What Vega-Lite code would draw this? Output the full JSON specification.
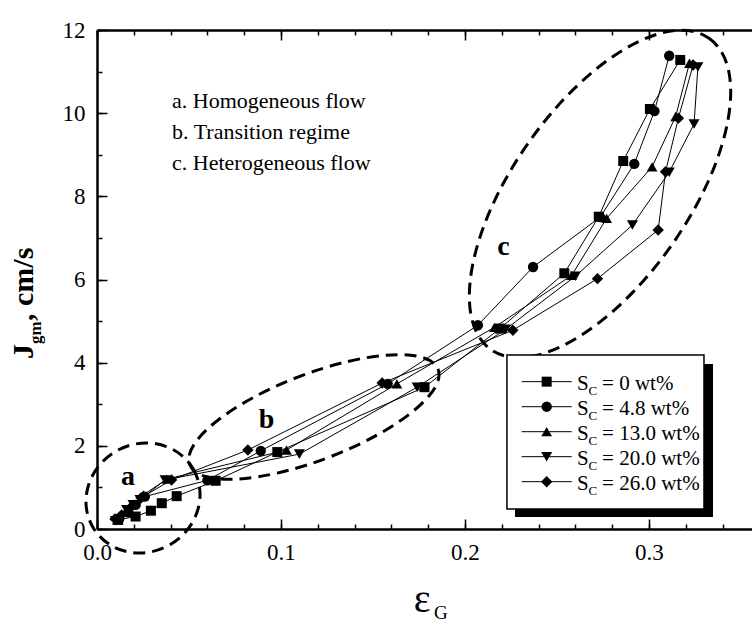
{
  "$schema": "https://vega.github.io/schema/vega-lite/v6.json",
  "width": 655,
  "height": 499,
  "autosize": "none",
  "padding": {"left": 97, "top": 30, "right": 0, "bottom": 91},
  "background": "white",
  "config": {
    "view": {"stroke": null},
    "font": "Liberation Serif",
    "axis": {
      "grid": false,
      "domainColor": "black",
      "tickColor": "black",
      "labelColor": "black",
      "labelFont": "Liberation Serif",
      "labelFontSize": 23,
      "tickWidth": 1.5,
      "domainWidth": 2.5
    }
  },
  "datasets": {
    "flow": [
      {"sc": "0", "eg": 0.0115, "j": 0.22}, {"sc": "0", "eg": 0.021, "j": 0.30}, {"sc": "0", "eg": 0.0293, "j": 0.44},
      {"sc": "0", "eg": 0.0352, "j": 0.62}, {"sc": "0", "eg": 0.0433, "j": 0.79}, {"sc": "0", "eg": 0.0645, "j": 1.16},
      {"sc": "0", "eg": 0.098, "j": 1.85}, {"sc": "0", "eg": 0.178, "j": 3.41}, {"sc": "0", "eg": 0.219, "j": 4.82},
      {"sc": "0", "eg": 0.254, "j": 6.15}, {"sc": "0", "eg": 0.2727, "j": 7.51}, {"sc": "0", "eg": 0.286, "j": 8.85},
      {"sc": "0", "eg": 0.3005, "j": 10.10}, {"sc": "0", "eg": 0.317, "j": 11.28},

      {"sc": "4.8", "eg": 0.012, "j": 0.24}, {"sc": "4.8", "eg": 0.017, "j": 0.40}, {"sc": "4.8", "eg": 0.021, "j": 0.58},
      {"sc": "4.8", "eg": 0.026, "j": 0.78}, {"sc": "4.8", "eg": 0.060, "j": 1.17}, {"sc": "4.8", "eg": 0.089, "j": 1.88},
      {"sc": "4.8", "eg": 0.158, "j": 3.49}, {"sc": "4.8", "eg": 0.207, "j": 4.90}, {"sc": "4.8", "eg": 0.237, "j": 6.30},
      {"sc": "4.8", "eg": 0.2735, "j": 7.50}, {"sc": "4.8", "eg": 0.292, "j": 8.78}, {"sc": "4.8", "eg": 0.303, "j": 10.05},
      {"sc": "4.8", "eg": 0.311, "j": 11.38},

      {"sc": "13.0", "eg": 0.011, "j": 0.22}, {"sc": "13.0", "eg": 0.016, "j": 0.42}, {"sc": "13.0", "eg": 0.020, "j": 0.60},
      {"sc": "13.0", "eg": 0.0252, "j": 0.82}, {"sc": "13.0", "eg": 0.038, "j": 1.20}, {"sc": "13.0", "eg": 0.103, "j": 1.90},
      {"sc": "13.0", "eg": 0.163, "j": 3.49}, {"sc": "13.0", "eg": 0.216, "j": 4.85}, {"sc": "13.0", "eg": 0.258, "j": 6.10},
      {"sc": "13.0", "eg": 0.277, "j": 7.47}, {"sc": "13.0", "eg": 0.3017, "j": 8.71}, {"sc": "13.0", "eg": 0.3145, "j": 9.92},
      {"sc": "13.0", "eg": 0.322, "j": 11.20},

      {"sc": "20.0", "eg": 0.010, "j": 0.20}, {"sc": "20.0", "eg": 0.0161, "j": 0.46}, {"sc": "20.0", "eg": 0.0196, "j": 0.58},
      {"sc": "20.0", "eg": 0.0234, "j": 0.70}, {"sc": "20.0", "eg": 0.037, "j": 1.18}, {"sc": "20.0", "eg": 0.110, "j": 1.80},
      {"sc": "20.0", "eg": 0.174, "j": 3.41}, {"sc": "20.0", "eg": 0.222, "j": 4.80}, {"sc": "20.0", "eg": 0.260, "j": 6.08},
      {"sc": "20.0", "eg": 0.291, "j": 7.31}, {"sc": "20.0", "eg": 0.311, "j": 8.58}, {"sc": "20.0", "eg": 0.3245, "j": 9.74},
      {"sc": "20.0", "eg": 0.3266, "j": 11.11},

      {"sc": "26.0", "eg": 0.0098, "j": 0.24}, {"sc": "26.0", "eg": 0.0134, "j": 0.34}, {"sc": "26.0", "eg": 0.019, "j": 0.55},
      {"sc": "26.0", "eg": 0.024, "j": 0.75}, {"sc": "26.0", "eg": 0.0405, "j": 1.18}, {"sc": "26.0", "eg": 0.082, "j": 1.90},
      {"sc": "26.0", "eg": 0.155, "j": 3.51}, {"sc": "26.0", "eg": 0.226, "j": 4.78}, {"sc": "26.0", "eg": 0.272, "j": 6.02},
      {"sc": "26.0", "eg": 0.305, "j": 7.19}, {"sc": "26.0", "eg": 0.309, "j": 8.59}, {"sc": "26.0", "eg": 0.316, "j": 9.88},
      {"sc": "26.0", "eg": 0.324, "j": 11.16}
    ]
  },
  "resolve": {"axis": {"x": "independent", "y": "independent"}},
  "layer": [
    {
      "data": {"name": "flow"},
      "mark": {"type": "line", "color": "black", "strokeWidth": 1},
      "encoding": {
        "x": {"field": "eg", "type": "quantitative", "scale": {"domain": [0, 0.356], "nice": false, "zero": false},
              "axis": {"orient": "bottom", "values": [0, 0.1, 0.2, 0.3], "format": ".1f", "ticks": false, "domain": true,
                       "labelFlush": false, "labelPadding": 12, "labelFont": "Liberation Serif", "labelFontSize": 23,
                       "labelColor": "black", "title": null}},
        "y": {"field": "j", "type": "quantitative", "scale": {"domain": [0, 12], "nice": false, "zero": false},
              "axis": {"orient": "left", "values": [0, 2, 4, 6, 8, 10, 12], "format": "d", "ticks": false, "domain": true,
                       "labelPadding": 12, "labelFont": "Liberation Serif", "labelFontSize": 23, "labelColor": "black", "title": null}},
        "detail": {"field": "sc"},
        "order": {"field": "j", "type": "quantitative"}
      }
    },
    {
      "data": {"name": "flow"},
      "mark": {"type": "point", "filled": true, "color": "black", "opacity": 1},
      "encoding": {
        "x": {"field": "eg", "type": "quantitative", "scale": {"domain": [0, 0.356], "nice": false, "zero": false},
              "axis": {"orient": "bottom", "values": [0, 0.1, 0.2, 0.3], "labels": false, "domain": false, "tickSize": -10, "title": null}},
        "y": {"field": "j", "type": "quantitative", "scale": {"domain": [0, 12], "nice": false, "zero": false},
              "axis": {"orient": "left", "values": [0, 2, 4, 6, 8, 10, 12], "labels": false, "domain": false, "tickSize": -10, "title": null}},
        "shape": {"field": "sc", "type": "nominal",
                  "scale": {"domain": ["0", "4.8", "13.0", "20.0", "26.0"], "range": ["square", "circle", "triangle-up", "triangle-down", "diamond"]},
                  "legend": null},
        "size": {"field": "sc", "type": "nominal",
                 "scale": {"domain": ["0", "4.8", "13.0", "20.0", "26.0"], "range": [100, 130, 170, 170, 180]},
                 "legend": null}
      }
    },
    {
      "data": {"values": [{}]},
      "mark": {"type": "point", "shape": "M50.23,-29C65.14,-3.17,54.74,30.74,27,46.76C-0.74,62.78,-35.32,54.83,-50.23,29C-65.14,3.17,-54.74,-30.74,-27,-46.76C0.74,-62.78,35.32,-54.83,50.23,-29Z",
               "size": 4, "filled": false, "color": "black", "opacity": 1, "strokeWidth": 3, "strokeDash": [12, 7]},
      "encoding": {
        "x": {"datum": 0.025, "type": "quantitative", "scale": {"domain": [0, 0.356], "nice": false, "zero": false},
              "axis": {"orient": "bottom", "values": [0, 0.02, 0.04, 0.06, 0.08, 0.1, 0.12, 0.14, 0.16, 0.18, 0.2, 0.22, 0.24, 0.26, 0.28, 0.3, 0.32, 0.34],
                       "labels": false, "domain": false, "tickSize": -5, "title": null}},
        "y": {"datum": 0.746, "type": "quantitative", "scale": {"domain": [0, 12], "nice": false, "zero": false},
              "axis": {"orient": "left", "values": [0, 1, 2, 3, 4, 5, 6, 7, 8, 9, 10, 11, 12],
                       "labels": false, "domain": false, "tickSize": -5, "title": null}}
      }
    },
    {
      "data": {"values": [{}]},
      "mark": {"type": "point", "shape": "M124.17,-47.67C132.68,-25.5,83.99,13.81,15.41,40.14C-53.17,66.47,-115.66,69.84,-124.17,47.67C-132.68,25.5,-83.99,-13.81,-15.41,-40.14C53.17,-66.47,115.66,-69.84,124.17,-47.67Z",
               "size": 4, "filled": false, "color": "black", "opacity": 1, "strokeWidth": 3, "strokeDash": [12, 7]},
      "encoding": {
        "x": {"datum": 0.1179, "type": "quantitative", "scale": {"domain": [0, 0.356], "nice": false, "zero": false},
              "axis": {"orient": "top", "values": [0, 0.1, 0.2, 0.3], "labels": false, "domain": true, "tickSize": -10, "title": null}},
        "y": {"datum": 2.694, "type": "quantitative", "scale": {"domain": [0, 12], "nice": false, "zero": false}, "axis": null}
      }
    },
    {
      "data": {"values": [{}]},
      "mark": {"type": "point", "shape": "M108.98,-155.65C148.8,-127.77,132.28,-35.49,72.09,50.48C11.9,136.45,-69.16,183.53,-108.98,155.65C-148.8,127.77,-132.28,35.49,-72.09,-50.48C-11.9,-136.45,69.16,-183.53,108.98,-155.65Z",
               "size": 4, "filled": false, "color": "black", "opacity": 1, "strokeWidth": 3, "strokeDash": [12, 7]},
      "encoding": {
        "x": {"datum": 0.2734, "type": "quantitative", "scale": {"domain": [0, 0.356], "nice": false, "zero": false},
              "axis": {"orient": "top", "values": [0, 0.02, 0.04, 0.06, 0.08, 0.1, 0.12, 0.14, 0.16, 0.18, 0.2, 0.22, 0.24, 0.26, 0.28, 0.3, 0.32, 0.34],
                       "labels": false, "domain": false, "tickSize": -5, "title": null}},
        "y": {"datum": 8.057, "type": "quantitative", "scale": {"domain": [0, 12], "nice": false, "zero": false}, "axis": null}
      }
    },
    {
      "data": {"values": [{}]},
      "mark": {"type": "text", "text": ["a. Homogeneous flow", "b. Transition regime", "c. Heterogeneous flow"],
               "font": "Liberation Serif", "fontSize": 22, "lineHeight": 31, "align": "left", "baseline": "alphabetic", "color": "black"},
      "encoding": {
        "x": {"datum": 0.0408, "type": "quantitative", "scale": {"domain": [0, 0.356], "nice": false, "zero": false}, "axis": null},
        "y": {"datum": 10.125, "type": "quantitative", "scale": {"domain": [0, 12], "nice": false, "zero": false}, "axis": null}
      }
    },
    {
      "data": {"values": [{"tag": "a", "px": 0.0168, "py": 1.058}, {"tag": "b", "px": 0.0921, "py": 2.429}, {"tag": "c", "px": 0.2209, "py": 6.59}]},
      "mark": {"type": "text", "font": "Liberation Serif", "fontSize": 28, "fontWeight": "bold", "align": "center", "baseline": "alphabetic", "color": "black"},
      "encoding": {
        "x": {"field": "px", "type": "quantitative", "scale": {"domain": [0, 0.356], "nice": false, "zero": false}, "axis": null},
        "y": {"field": "py", "type": "quantitative", "scale": {"domain": [0, 12], "nice": false, "zero": false}, "axis": null},
        "text": {"field": "tag"}
      }
    },
    {
      "data": {"values": [{}]},
      "mark": {"type": "rect", "color": "black", "opacity": 1},
      "encoding": {
        "x": {"datum": 0.2272, "type": "quantitative", "scale": {"domain": [0, 0.356], "nice": false, "zero": false}, "axis": null},
        "x2": {"datum": 0.3348},
        "y": {"datum": 3.968, "type": "quantitative", "scale": {"domain": [0, 12], "nice": false, "zero": false}, "axis": null},
        "y2": {"datum": 0.289}
      }
    },
    {
      "data": {"values": [{}]},
      "mark": {"type": "rect", "fill": "white", "stroke": "black", "strokeWidth": 1.5, "opacity": 1},
      "encoding": {
        "x": {"datum": 0.2228, "type": "quantitative", "scale": {"domain": [0, 0.356], "nice": false, "zero": false}, "axis": null},
        "x2": {"datum": 0.3299},
        "y": {"datum": 4.185, "type": "quantitative", "scale": {"domain": [0, 12], "nice": false, "zero": false}, "axis": null},
        "y2": {"datum": 0.481}
      }
    },
    {
      "data": {"values": [
        {"sc": "0", "ly": 3.543}, {"sc": "4.8", "ly": 2.941}, {"sc": "13.0", "ly": 2.340}, {"sc": "20.0", "ly": 1.739}, {"sc": "26.0", "ly": 1.138}
      ]},
      "layer": [
        {
          "mark": {"type": "rule", "color": "black", "strokeWidth": 1},
          "encoding": {
            "x": {"datum": 0.2308, "type": "quantitative", "scale": {"domain": [0, 0.356], "nice": false, "zero": false}, "axis": null},
            "x2": {"datum": 0.2580},
            "y": {"field": "ly", "type": "quantitative", "scale": {"domain": [0, 12], "nice": false, "zero": false}, "axis": null}
          }
        },
        {
          "mark": {"type": "point", "filled": true, "color": "black", "opacity": 1},
          "encoding": {
            "x": {"datum": 0.2444, "type": "quantitative", "scale": {"domain": [0, 0.356], "nice": false, "zero": false}, "axis": null},
            "y": {"field": "ly", "type": "quantitative", "scale": {"domain": [0, 12], "nice": false, "zero": false}, "axis": null},
            "shape": {"field": "sc", "type": "nominal",
                      "scale": {"domain": ["0", "4.8", "13.0", "20.0", "26.0"], "range": ["square", "circle", "triangle-up", "triangle-down", "diamond"]},
                      "legend": null},
            "size": {"field": "sc", "type": "nominal",
                     "scale": {"domain": ["0", "4.8", "13.0", "20.0", "26.0"], "range": [100, 130, 170, 170, 180]},
                     "legend": null}
          }
        }
      ]
    },
    {
      "data": {"values": [{}]},
      "mark": {"type": "text", "text": ["S", "S", "S", "S", "S"], "font": "Liberation Serif", "fontSize": 21, "lineHeight": 25,
               "align": "left", "baseline": "alphabetic", "color": "black"},
      "encoding": {
        "x": {"datum": 0.2609, "type": "quantitative", "scale": {"domain": [0, 0.356], "nice": false, "zero": false}, "axis": null},
        "y": {"datum": 3.343, "type": "quantitative", "scale": {"domain": [0, 12], "nice": false, "zero": false}, "axis": null}
      }
    },
    {
      "data": {"values": [{}]},
      "mark": {"type": "text", "text": ["C", "C", "C", "C", "C"], "font": "Liberation Serif", "fontSize": 13, "lineHeight": 25,
               "align": "left", "baseline": "alphabetic", "color": "black"},
      "encoding": {
        "x": {"datum": 0.2672, "type": "quantitative", "scale": {"domain": [0, 0.356], "nice": false, "zero": false}, "axis": null},
        "y": {"datum": 3.223, "type": "quantitative", "scale": {"domain": [0, 12], "nice": false, "zero": false}, "axis": null}
      }
    },
    {
      "data": {"values": [{}]},
      "mark": {"type": "text", "text": ["= 0 wt%", "= 4.8 wt%", "= 13.0 wt%", "= 20.0 wt%", "= 26.0 wt%"], "font": "Liberation Serif",
               "fontSize": 21, "lineHeight": 25, "align": "left", "baseline": "alphabetic", "color": "black"},
      "encoding": {
        "x": {"datum": 0.2745, "type": "quantitative", "scale": {"domain": [0, 0.356], "nice": false, "zero": false}, "axis": null},
        "y": {"datum": 3.343, "type": "quantitative", "scale": {"domain": [0, 12], "nice": false, "zero": false}, "axis": null}
      }
    },
    {
      "data": {"values": [{"part": "J", "px": -0.0348, "py": 4.089}, {"part": ", cm/s", "px": -0.0348, "py": 5.002}]},
      "mark": {"type": "text", "font": "Liberation Serif", "fontSize": 30, "fontWeight": "bold", "angle": 270, "align": "left", "baseline": "alphabetic", "color": "black"},
      "encoding": {
        "x": {"field": "px", "type": "quantitative", "scale": {"domain": [0, 0.356], "nice": false, "zero": false}, "axis": null},
        "y": {"field": "py", "type": "quantitative", "scale": {"domain": [0, 12], "nice": false, "zero": false}, "axis": null},
        "text": {"field": "part"}
      }
    },
    {
      "data": {"values": [{"part": "gm", "px": -0.0302, "py": 4.449}]},
      "mark": {"type": "text", "font": "Liberation Serif", "fontSize": 17, "fontWeight": "bold", "angle": 270, "align": "left", "baseline": "alphabetic", "color": "black"},
      "encoding": {
        "x": {"field": "px", "type": "quantitative", "scale": {"domain": [0, 0.356], "nice": false, "zero": false}, "axis": null},
        "y": {"field": "py", "type": "quantitative", "scale": {"domain": [0, 12], "nice": false, "zero": false}, "axis": null},
        "text": {"field": "part"}
      }
    },
    {
      "data": {"values": [{"part": "ε", "px": 0.1722, "py": -2.0}]},
      "mark": {"type": "text", "font": "Liberation Serif", "fontSize": 40, "align": "left", "baseline": "alphabetic", "color": "black"},
      "encoding": {
        "x": {"field": "px", "type": "quantitative", "scale": {"domain": [0, 0.356], "nice": false, "zero": false}, "axis": null},
        "y": {"field": "py", "type": "quantitative", "scale": {"domain": [0, 12], "nice": false, "zero": false}, "axis": null},
        "text": {"field": "part"}
      }
    },
    {
      "data": {"values": [{"part": "G", "px": 0.1832, "py": -2.165}]},
      "mark": {"type": "text", "font": "Liberation Serif", "fontSize": 19, "align": "left", "baseline": "alphabetic", "color": "black"},
      "encoding": {
        "x": {"field": "px", "type": "quantitative", "scale": {"domain": [0, 0.356], "nice": false, "zero": false}, "axis": null},
        "y": {"field": "py", "type": "quantitative", "scale": {"domain": [0, 12], "nice": false, "zero": false}, "axis": null},
        "text": {"field": "part"}
      }
    }
  ]
}
